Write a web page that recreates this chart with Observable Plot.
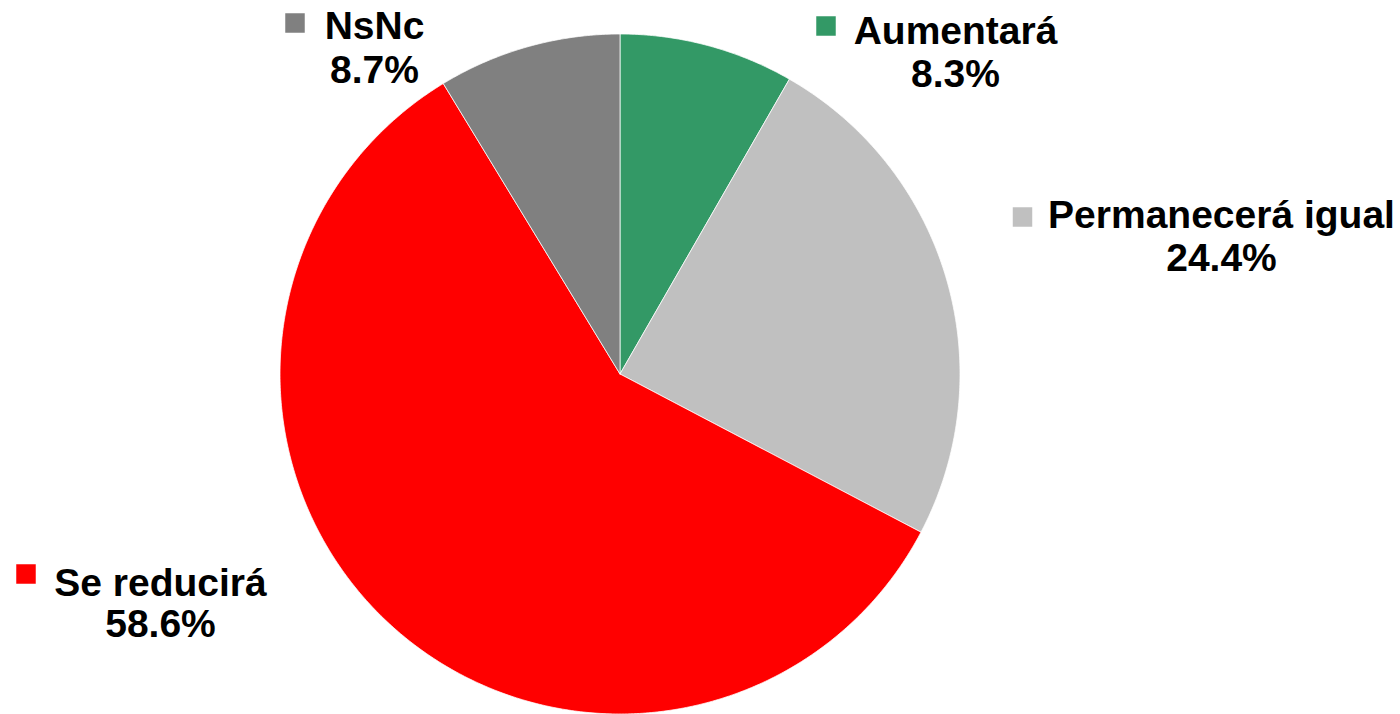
<!DOCTYPE html>
<html><head><meta charset="utf-8">
<script src="https://cdn.jsdelivr.net/npm/d3@7"></script>
<script src="https://cdn.jsdelivr.net/npm/@observablehq/plot@0.6"></script>
<style>html,body{margin:0;padding:0;background:#fff;overflow:hidden;}</style>
</head><body><div id="chart"></div>
<script>
// ---- data ----
const categories = ["Aumentará", "Permanecerá igual", "Se reducirá", "NsNc"];
const values = [8.3, 24.4, 58.6, 8.7];
const valueLabels = ["8.3%", "24.4%", "58.6%", "8.7%"];
const colors = ["#339966", "#C0C0C0", "#FF0000", "#808080"];

// ---- layout (pixels) ----
const W = 1400, H = 714, cx = 619.5, cy = 373.5, R = 340;
const layout = {
  "Aumentará":         {tx: 955,  ty: 43,  py: 86,  mx: 825.5, my: 25.5},
  "Permanecerá igual": {tx: 1221, ty: 227, py: 270, mx: 1022,  my: 216.5},
  "Se reducirá":       {tx: 160,  ty: 595, py: 636, mx: 25.5,  my: 573.5},
  "NsNc":              {tx: 374,  ty: 38,  py: 82,  mx: 294.5, my: 22.5}
};
const toX = px => (px - cx) / R;
const toY = py => (cy - py) / R;

// ---- slice geometry from values ----
const arcs = d3.pie().sort(null).value(d => d)(values);
const slicePts = [];
arcs.forEach((a, i) => {
  const cat = categories[i];
  slicePts.push({cat, x: 0, y: 0});
  const n = Math.max(2, Math.ceil((a.endAngle - a.startAngle) / (Math.PI / 360)));
  for (let k = 0; k <= n; k++) {
    const t = a.startAngle + (a.endAngle - a.startAngle) * k / n;
    slicePts.push({cat, x: Math.sin(t), y: Math.cos(t)});
  }
  slicePts.push({cat, x: 0, y: 0});
});

const labels = categories.map((c, i) => ({
  cat: c, value: valueLabels[i],
  tx: toX(layout[c].tx), ty: toY(layout[c].ty), py: toY(layout[c].py),
  mx: toX(layout[c].mx), my: toY(layout[c].my)
}));

const font = "'Liberation Sans', Arial, Helvetica, sans-serif";

const chart = Plot.plot({
  width: W, height: H, margin: 0,
  style: {background: "#fff"},
  x: {axis: null, domain: [-1, 1], range: [cx - R, cx + R]},
  y: {axis: null, domain: [-1, 1], range: [cy + R, cy - R]},
  color: {domain: categories, range: colors},
  marks: [
    Plot.line(slicePts, {x: "x", y: "y", z: "cat", fill: "cat", stroke: "white", strokeWidth: 0.75, curve: "linear"}),
    Plot.dot(labels, {x: "mx", y: "my", fill: "cat", symbol: "square", r: 11, stroke: null}),
    Plot.text(labels, {x: "tx", y: "ty", text: "cat", textAnchor: "middle", lineAnchor: "bottom", fontSize: 39, fontWeight: "bold", fontFamily: font, fill: "black"}),
    Plot.text(labels, {x: "tx", y: "py", text: "value", textAnchor: "middle", lineAnchor: "bottom", fontSize: 39, fontWeight: "bold", fontFamily: font, fill: "black"})
  ]
});
document.getElementById("chart").appendChild(chart);
</script>
</body></html>
